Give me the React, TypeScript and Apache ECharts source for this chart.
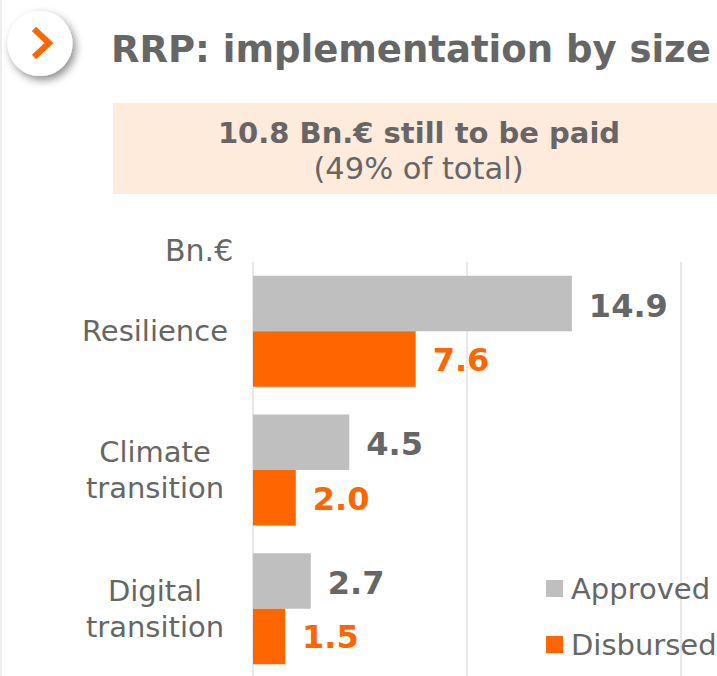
import React, { useEffect, useRef } from "react";
import * as echarts from "echarts";

const categories = ["Resilience", "Climate\ntransition", "Digital\ntransition"];
const approved = [14.9, 4.5, 2.7];
const disbursed = [7.6, 2.0, 1.5];
const xTicks = { min: 0, max: 20, interval: 10 };
const titleText = "RRP: implementation by size";
const bannerBold = "10.8 Bn.€ still to be paid";
const bannerLight = "(49% of total)";
const unitText = "Bn.€";

const GREY = "#666666";
const ORANGE = "#FF6600";
const BAR_GREY = "#BFBFBF";
const FONT = "'DejaVu Sans', Verdana, sans-serif";

export default function App() {
  const ref = useRef<HTMLDivElement>(null);
  useEffect(() => {
    const chart = echarts.init(ref.current!, undefined, { renderer: "svg" });
    const fmt = (p: any) => Number(p.value).toFixed(1);
    chart.setOption({
      animation: false,
      backgroundColor: "#ffffff",
      textStyle: { fontFamily: FONT },
      grid: { left: 253, top: 262, width: 428, height: 416, containLabel: false },
      xAxis: {
        type: "value",
        ...xTicks,
        axisLabel: { show: false },
        axisLine: { show: false },
        axisTick: { show: false },
        splitLine: { show: true, lineStyle: { color: "#E8E8E8", width: 2 } },
      },
      yAxis: {
        type: "category",
        inverse: true,
        data: categories,
        axisLine: { show: false },
        axisTick: { show: false },
        axisLabel: {
          color: GREY,
          fontSize: 29,
          fontFamily: FONT,
          align: "center",
          margin: 98,
          lineHeight: 36,
        },
      },
      legend: {
        orient: "vertical",
        left: 546,
        top: 574,
        itemWidth: 17,
        itemHeight: 17,
        itemGap: 27,
        icon: "rect",
        padding: 0,
        textStyle: { color: GREY, fontSize: 29, fontFamily: FONT, padding: [0, 0, 0, 3] },
        data: ["Approved", "Disbursed"],
      },
      series: [
        {
          name: "Approved",
          type: "bar",
          data: approved,
          barWidth: 55.5,
          barGap: 0,
          itemStyle: { color: BAR_GREY },
          label: {
            show: true,
            position: "right",
            distance: 17,
            offset: [0, 2],
            formatter: fmt,
            color: GREY,
            fontSize: 32,
            fontWeight: "bold",
            fontFamily: FONT,
          },
        },
        {
          name: "Disbursed",
          type: "bar",
          data: disbursed,
          barWidth: 55.5,
          barGap: 0,
          itemStyle: { color: ORANGE },
          label: {
            show: true,
            position: "right",
            distance: 17,
            offset: [0, 1],
            formatter: fmt,
            color: ORANGE,
            fontSize: 32,
            fontWeight: "bold",
            fontFamily: FONT,
          },
        },
      ],
      graphic: [
        { type: "rect", z: 0, shape: { x: 0, y: 0, width: 2, height: 676 }, style: { fill: "#EEEEEE" } },
        { type: "rect", z: 1, shape: { x: 113, y: 103, width: 604, height: 91 }, style: { fill: "#FFEBDC" } },
        {
          type: "circle",
          z: 2,
          shape: { cx: 40, cy: 43.5, r: 32.5 },
          style: { fill: "#ffffff", shadowBlur: 8, shadowColor: "rgba(0,0,0,0.45)", shadowOffsetX: 3, shadowOffsetY: 4 },
        },
        {
          type: "polyline",
          z: 3,
          shape: { points: [[34, 29], [49, 43], [34, 57]] },
          style: { stroke: ORANGE, lineWidth: 6, fill: "none" },
        },
        {
          type: "text",
          z: 3,
          x: 111,
          y: 49,
          style: { text: titleText, fill: GREY, font: `bold 37px ${FONT}`, textVerticalAlign: "middle" },
        },
        {
          type: "text",
          z: 3,
          x: 419,
          y: 133,
          style: { text: bannerBold, fill: GREY, font: `bold 29px ${FONT}`, textAlign: "center", textVerticalAlign: "middle" },
        },
        {
          type: "text",
          z: 3,
          x: 418.5,
          y: 168,
          style: { text: bannerLight, fill: GREY, font: `30.5px ${FONT}`, textAlign: "center", textVerticalAlign: "middle" },
        },
        {
          type: "text",
          z: 3,
          x: 165,
          y: 250,
          style: { text: unitText, fill: GREY, font: `30px ${FONT}`, textVerticalAlign: "middle" },
        },
      ],
    });
    return () => chart.dispose();
  }, []);
  return (
    <div style={{ position: "fixed", left: 0, top: 0, width: 717, height: 676, overflow: "hidden" }}>
      <div ref={ref} style={{ width: 717, height: 700 }} />
    </div>
  );
}
